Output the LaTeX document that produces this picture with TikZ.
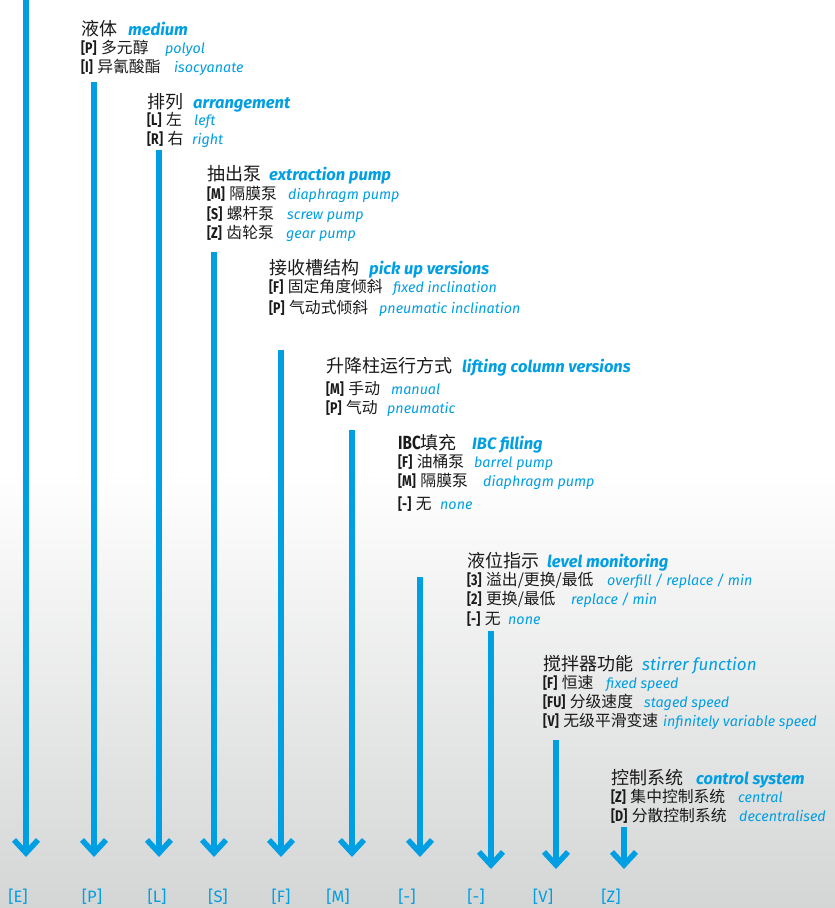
\documentclass[tikz,border=0pt]{standalone}
\usepackage{fontspec}
\setmainfont{Fira Sans}
\newfontfamily\cjk{Noto Sans CJK SC}
\newfontfamily\codefont[FakeStretch=0.8]{Fira Sans}
\usetikzlibrary{arrows.meta}
\definecolor{cblue}{HTML}{009FE3}
\definecolor{ctext}{HTML}{1A1A1A}
\definecolor{cgray}{HTML}{D4D5D5}
\newcommand{\code}[1]{{\codefont\bfseries\fontsize{15.5}{15.5}\selectfont[#1]}\hspace{4.5pt}}
\tikzset{
  hcn/.style={anchor=base west, inner sep=0pt, text=ctext, font=\fontsize{18}{18}\selectfont\cjk},
  hen/.style={anchor=base west, inner sep=0pt, text=cblue, font=\fontsize{16.5}{16.5}\selectfont\bfseries\itshape},
  henr/.style={anchor=base west, inner sep=0pt, text=cblue, font=\fontsize{17}{17}\selectfont\itshape},
  icn/.style={anchor=base west, inner sep=0pt, text=ctext, font=\fontsize{15.8}{15.8}\selectfont\cjk},
  ien/.style={anchor=base west, inner sep=0pt, text=cblue, font=\fontsize{14.3}{14.3}\selectfont\itshape},
  lab/.style={anchor=base, inner sep=0pt, text=cblue, font=\fontsize{16.5}{16.5}\selectfont},
  arr/.style={draw=cblue, line width=5.5pt, -{Straight Barb[length=13pt, width=24pt]}},
}
\begin{document}
\begin{tikzpicture}[x=1pt, y=-1pt]
\useasboundingbox (0,0) rectangle (835,908);
\fill[white] (0,0) rectangle (835,908);
\shade[top color=white, bottom color=cgray] (0,470) rectangle (835,908);

% arrows
\coordinate (t1) at (26,0);   \coordinate (b1) at (26,857);
\coordinate (t2) at (94,82);  \coordinate (b2) at (94,857);
\coordinate (t3) at (159,150); \coordinate (b3) at (159,857);
\coordinate (t4) at (214,252); \coordinate (b4) at (214,857);
\coordinate (t5) at (281,350); \coordinate (b5) at (281,857);
\coordinate (t6) at (352,430); \coordinate (b6) at (352,857);
\coordinate (t7) at (420,577); \coordinate (b7) at (420,857);
\coordinate (t8) at (491,631); \coordinate (b8) at (491,869);
\coordinate (t9) at (556,740); \coordinate (b9) at (556,869);
\coordinate (t10) at (624,827); \coordinate (b10) at (624,869);
\foreach \i in {1,...,10} { \draw[arr] (t\i) -- (b\i); }

% bottom labels
\node[lab] (l1) at (18,902) {[E]};
\node[lab] (l2) at (92,902) {[P]};
\node[lab] (l3) at (157,902) {[L]};
\node[lab] (l4) at (218,902) {[S]};
\node[lab] (l5) at (281,902) {[F]};
\node[lab] (l6) at (338,902) {[M]};
\node[lab] (l7) at (407,902) {[-]};
\node[lab] (l8) at (476,902) {[-]};
\node[lab] (l9) at (543,902) {[V]};
\node[lab] (l10) at (611,902) {[Z]};

% block 1
\node[hcn] (h1c) at (81,35.5) {液体};
\node[hen] (h1e) at (128,35.5) {medium};
\node[icn] (i11c) at (81,53) {\code{P}多元醇};
\node[ien] (i11e) at (165,53) {polyol};
\node[icn] (i12c) at (81,72) {\code{I}异氰酸酯};
\node[ien] (i12e) at (174,72) {isocyanate};
% block 2
\node[hcn] (h2c) at (147,108.5) {排列};
\node[hen] (h2e) at (193,108.5) {arrangement};
\node[icn] (i21c) at (147,125) {\code{L}左};
\node[ien] (i21e) at (194,125) {left};
\node[icn] (i22c) at (147,144) {\code{R}右};
\node[ien] (i22e) at (192,144) {right};
% block 3
\node[hcn] (h3c) at (207,180.5) {抽出泵};
\node[hen] (h3e) at (269,180.5) {extraction pump};
\node[icn] (i31c) at (207,199) {\code{M}隔膜泵};
\node[ien] (i31e) at (288,199) {diaphragm pump};
\node[icn] (i32c) at (207,219) {\code{S}螺杆泵};
\node[ien] (i32e) at (287,219) {screw pump};
\node[icn] (i33c) at (207,238) {\code{Z}齿轮泵};
\node[ien] (i33e) at (286,238) {gear pump};
% block 4
\node[hcn] (h4c) at (269,274.5) {接收槽结构};
\node[hen] (h4e) at (369,274.5) {pick up versions};
\node[icn] (i41c) at (269,292) {\code{F}固定角度倾斜};
\node[ien] (i41e) at (393,292) {fixed inclination};
\node[icn] (i42c) at (269,313) {\code{P}气动式倾斜};
\node[ien] (i42e) at (379,313) {pneumatic inclination};
% block 5
\node[hcn] (h5c) at (326,372.5) {升降柱运行方式};
\node[hen] (h5e) at (462,372.5) {lifting column versions};
\node[icn] (i51c) at (326,394) {\code{M}手动};
\node[ien] (i51e) at (391,394) {manual};
\node[icn] (i52c) at (326,413) {\code{P}气动};
\node[ien] (i52e) at (387,413) {pneumatic};
% block 6
\node[hcn] (h6c) at (398,449.5) {{\codefont\bfseries\fontsize{19}{19}\selectfont IBC}填充};
\node[hen] (h6e) at (472,449.5) {IBC filling};
\node[icn] (i61c) at (398,467) {\code{F}油桶泵};
\node[ien] (i61e) at (474,467) {barrel pump};
\node[icn] (i62c) at (398,486) {\code{M}隔膜泵};
\node[ien] (i62e) at (483,486) {diaphragm pump};
\node[icn] (i63c) at (398,509) {\code{-}无};
\node[ien] (i63e) at (440,509) {none};
% block 7
\node[hcn] (h7c) at (467,567.5) {液位指示};
\node[hen] (h7e) at (547,567.5) {level monitoring};
\node[icn] (i71c) at (467,585) {\code{3}溢出/更换/最低};
\node[ien] (i71e) at (607,585) {overfill / replace / min};
\node[icn] (i72c) at (467,604) {\code{2}更换/最低};
\node[ien] (i72e) at (571,604) {replace / min};
\node[icn] (i73c) at (467,624) {\code{-}无};
\node[ien] (i73e) at (508,624) {none};
% block 8
\node[hcn] (h8c) at (543,670.5) {搅拌器功能};
\node[henr] (h8e) at (642,670.5) {stirrer function};
\node[icn] (i81c) at (543,688) {\code{F}恒速};
\node[ien] (i81e) at (606,688) {fixed speed};
\node[icn] (i82c) at (543,707) {\code{FU}分级速度};
\node[ien] (i82e) at (644,707) {staged speed};
\node[icn] (i83c) at (543,726) {\code{V}无级平滑变速};
\node[ien] (i83e) at (663,726) {infinitely variable speed};
% block 9
\node[hcn] (h9c) at (611,784.5) {控制系统};
\node[hen] (h9e) at (696,784.5) {control system};
\node[icn] (i91c) at (611,802) {\code{Z}集中控制系统};
\node[ien] (i91e) at (738,802) {central};
\node[icn] (i92c) at (611,821) {\code{D}分散控制系统};
\node[ien] (i92e) at (739,821) {decentralised};
\end{tikzpicture}
\end{document}
